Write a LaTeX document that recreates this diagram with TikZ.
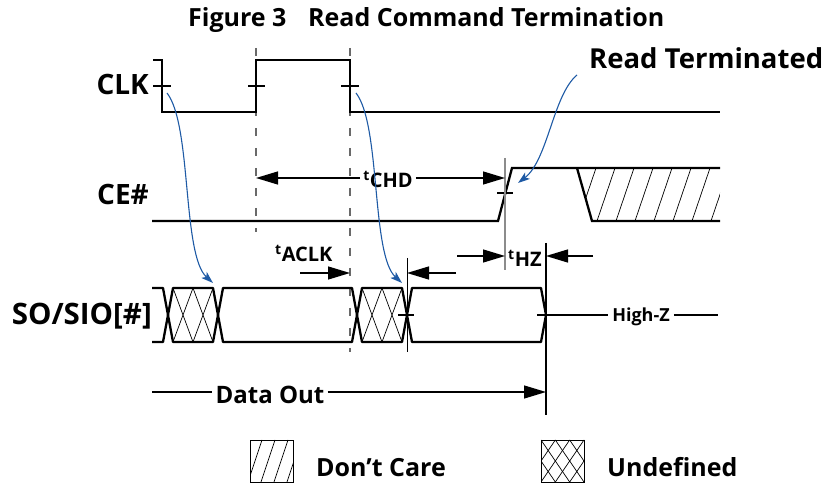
\documentclass[tikz,border=0pt]{standalone}
\usepackage{fontspec}
\setmainfont{Open Sans}
\usetikzlibrary{arrows.meta}
\definecolor{blueA}{RGB}{30,90,165}
\definecolor{dashgray}{RGB}{105,105,105}
\definecolor{vgray}{RGB}{140,140,140}
\newcommand\myundef[4]{%
  \foreach \k in {-3,...,3}{%
    \draw[hatchl] ({#1+#3/3*\k},#2) -- ({#1+#3/3*(\k+2)},{#2+#4});
    \draw[hatchl] ({#1+#3/3*(\k+2)},#2) -- ({#1+#3/3*\k},{#2+#4});
  }}
\newcommand\mybusundef[4]{%
  \foreach \k in {-2,...,2}{%
    \draw[hatchl] ({#1+#3/2*\k},#2) -- ({#1+#3/2*(\k+1)},{#2+#4});
    \draw[hatchl] ({#1+#3/2*(\k+1)},#2) -- ({#1+#3/2*\k},{#2+#4});
  }}
\begin{document}
\begin{tikzpicture}[x=1pt,y=-1pt,
  wave/.style={line width=2.3pt},
  tickl/.style={line width=1.5pt},
  thinl/.style={line width=1.3pt},
  dim/.style={line width=1.3pt,-{Triangle[length=22pt,width=13pt]}},
  hatchl/.style={line width=0.7pt},
  bluearrow/.style={blueA,line width=1.1pt,-{Stealth[length=12pt,width=8pt,inset=3pt]}},
  lbl/.style={inner sep=0pt,font=\bfseries\fontsize{28}{28}\selectfont},
  tlbl/.style={inner xsep=3pt,inner ysep=0pt,font=\bfseries\fontsize{20}{20}\selectfont},
  dashv/.style={dashgray,line width=1.3pt,dash pattern=on 8pt off 12pt},
]
\useasboundingbox (0,0) rectangle (828,486);

% title
\node[anchor=base west,inner sep=0pt,font=\bfseries\fontsize{25}{25}\selectfont] (fig) at (188,27) {Figure 3};
\node[anchor=base west,inner sep=0pt,font=\bfseries\fontsize{25}{25}\selectfont] (ttl) at (308,27) {Read Command Termination};
\node[anchor=base west,inner sep=0pt,font=\bfseries\fontsize{27.5}{27.5}\selectfont] (rt) at (589,69) {Read Terminated};

% signal labels
\node[lbl,anchor=base east] (clk) at (149,95) {CLK};
\node[lbl,anchor=base east] (ce) at (149,205) {CE\#};
\node[lbl,font=\bfseries\fontsize{29.5}{29.5}\selectfont,anchor=base east] (so) at (152,325) {SO/SIO[\#]};

% dashed reference lines
\coordinate (d1t) at (256,48); \coordinate (d1b) at (256,232);
\coordinate (d2t) at (350,48); \coordinate (d2b) at (350,352);
\draw[dashv] (d1t) -- (d1b);
\draw[dashv] (d2t) -- (d2b);

% CLK
\draw[wave] (153,60) -- (162,60) -- (162,112) -- (256,112) -- (256,60) -- (350,60) -- (350,112) -- (720,112);
\draw[tickl] (153,86) -- (171,86);
\draw[tickl] (248,86) -- (265,86);
\draw[tickl] (341,86) -- (359,86);

% CE#
\draw[wave] (152,221) -- (498,221) -- (512,168) -- (720,168);
\draw[wave] (577,168) -- (592,221) -- (720,221);
\begin{scope}
  \clip (577,168) -- (720,168) -- (720,221) -- (592,221) -- cycle;
  \foreach \i in {0,...,8} \draw[hatchl] ({578+19*\i},221) -- ({596+19*\i},168);
\end{scope}
\draw[tickl] (497,193) -- (513,193);
\coordinate (v505t) at (505,158); \coordinate (v505b) at (505,270);
\draw[vgray,line width=1.2pt] (v505t) -- (v505b);

% SO/SIO bus
\begin{scope}
  \clip (168,315) -- (173,288) -- (213,288) -- (218,315) -- (213,342) -- (173,342) -- cycle;
  \mybusundef{173}{288}{40}{54}
\end{scope}
\begin{scope}
  \clip (357,315) -- (362,288) -- (402,288) -- (407,315) -- (402,342) -- (362,342) -- cycle;
  \mybusundef{362}{288}{40}{54}
\end{scope}
\draw[wave,line join=round] (152,288) -- (163,288) -- (173,342) -- (213,342) -- (223,288) -- (352,288) -- (362,342) -- (402,342) -- (412,288) -- (541,288) -- (546,315);
\draw[wave,line join=round] (152,342) -- (163,342) -- (173,288) -- (213,288) -- (223,342) -- (352,342) -- (362,288) -- (402,288) -- (412,342) -- (541,342) -- (546,315);
\draw[tickl] (398,315) -- (414,315);

\coordinate (v407t) at (407,258); \coordinate (v407b) at (407,352);
\draw[line width=1pt] (v407t) -- (v407b);
\coordinate (v546t) at (546,243); \coordinate (v546b) at (546,415);
\draw[line width=1.1pt] (v546t) -- (v546b);

% High-Z
\node[inner xsep=4pt,inner ysep=0pt,font=\bfseries\fontsize{18}{18}\selectfont] (hiz) at (641,317) {High-Z};
\coordinate (hzA) at (537,315); \coordinate (hzB) at (718,315);
\draw[thinl] (hzA) -- (hiz.west |- hzA);
\draw[thinl] (hiz.east |- hzB) -- (hzB);

% tCHD
\node[tlbl,anchor=base] (chd) at (388,188) {\textsuperscript{t}CHD};
\coordinate (chdL) at (256,178); \coordinate (chdR) at (505,178);
\draw[dim] (chd.west |- chdL) -- (chdL);
\draw[dim] (chd.east |- chdR) -- (chdR);

% tACLK
\node[tlbl,anchor=base west] (aclk) at (272,262) {\textsuperscript{t}ACLK};
\coordinate (aclkS) at (300,273); \coordinate (aclkE) at (350,273);
\draw[dim] (aclkS) -- (aclkE);
\coordinate (l407s) at (456,273); \coordinate (l407e) at (407,273);
\draw[dim] (l407s) -- (l407e);

% tHZ
\node[tlbl,anchor=base west] (hz) at (505,267) {\textsuperscript{t}HZ};
\coordinate (hzLs) at (457,256); \coordinate (hzLe) at (505,256);
\coordinate (hzRs) at (593,256); \coordinate (hzRe) at (546,256);
\draw[dim] (hzLs) -- (hzLe);
\draw[dim] (hzRs) -- (hzRe);

% Data Out
\node[inner xsep=3pt,inner ysep=0pt,font=\bfseries\fontsize{24}{24}\selectfont] (dout) at (270,395) {Data Out};
\coordinate (doA) at (152,392); \coordinate (doB) at (546,392);
\draw[thinl] (doA) -- (dout.west |- doA);
\draw[dim] (dout.east |- doB) -- (doB);

% blue arrows
\coordinate (b1s) at (167,93); \coordinate (b1e) at (213,283);
\draw[bluearrow] (b1s) .. controls (192,125) and (182,255) .. (b1e);
\coordinate (b2s) at (356,93); \coordinate (b2e) at (402,283);
\draw[bluearrow] (b2s) .. controls (381,125) and (371,255) .. (b2e);
\coordinate (b3s) at (577,75); \coordinate (b3e) at (518,183);
\draw[bluearrow] (b3s) .. controls (553,95) and (548,160) .. (b3e);

% legend
\node[draw,line width=1.4pt,minimum width=43pt,minimum height=42pt,inner sep=0pt,anchor=north west] (dcbox) at (250,440) {};
\begin{scope}
  \clip (250,440) rectangle (293,482);
  \foreach \i in {-1,...,3} \draw[hatchl] ({248+13*\i},482) -- ({262+13*\i},440);
\end{scope}
\node[anchor=base west,inner sep=0pt,font=\bfseries\fontsize{25}{25}\selectfont] (dctxt) at (316,476) {Don’t Care};
\node[draw,line width=1.4pt,minimum width=43pt,minimum height=42pt,inner sep=0pt,anchor=north west] (udbox) at (541,440) {};
\begin{scope}
  \clip (541,440) rectangle (584,482);
  \myundef{541}{440}{43}{42}
\end{scope}
\node[anchor=base west,inner sep=0pt,font=\bfseries\fontsize{25}{25}\selectfont] (udtxt) at (607,476) {Undefined};
\end{tikzpicture}
\end{document}
